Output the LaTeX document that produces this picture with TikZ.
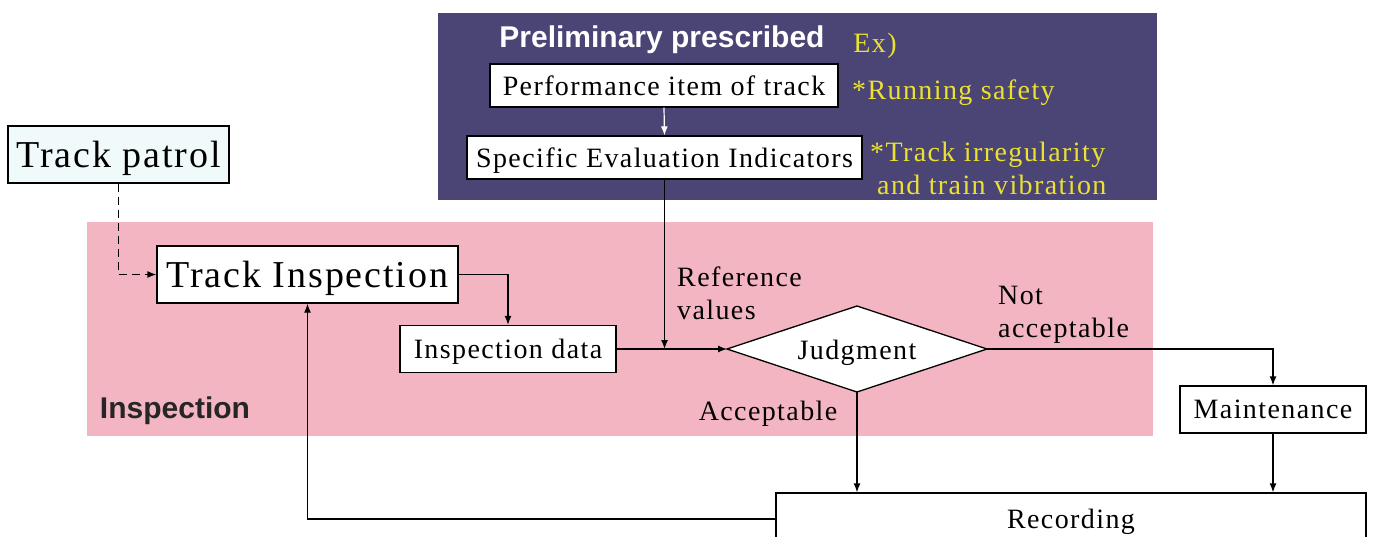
\documentclass[tikz,border=0pt]{standalone}
\usepackage{fontspec}
\setmainfont{Liberation Serif}[LetterSpace=5]
\setsansfont{Liberation Sans}
\usetikzlibrary{arrows.meta}

\definecolor{panelblue}{RGB}{75,69,117}
\definecolor{inspink}{RGB}{244,181,194}
\definecolor{patrolfill}{RGB}{240,250,250}
\definecolor{noteyellow}{RGB}{235,225,50}

\begin{document}
\begin{tikzpicture}[x=1pt,y=-1pt,
  box/.style={draw=black, fill=white, line width=1.3pt, inner sep=0pt,
    text depth=0pt, font=\fontsize{28}{33}\selectfont},
  conn/.style={line width=1.3pt, -{Latex[length=9pt,width=7pt]}},
  lbl/.style={font=\fontsize{28}{33}\selectfont, inner sep=0pt, align=left},
  note/.style={lbl, text=noteyellow},
  title/.style={font=\sffamily\bfseries\fontsize{30}{34}\selectfont, inner sep=0pt}]
\useasboundingbox (0,0) rectangle (1373,536);
\clip (0,0) rectangle (1373,536);

% background areas
\fill[inspink] (87,222) rectangle (1153,436);
\fill[panelblue] (438,13) rectangle (1157,200);

% upper panel: prescribed items
\node[title, text=white] (prelim) at (662,40) {Preliminary prescribed};
\node[note] (ex) at (875,46) {Ex)};
\node[box, minimum width=348pt, minimum height=43pt] (perf) at (664,85.5) {Performance item of track};
\node[box, minimum width=395pt, minimum height=43pt] (spec) at (664.5,157.5) {Specific Evaluation Indicators};
\node[note, anchor=west] (safety) at (852,93) {*Running safety};
\node[note, anchor=north west] (irreg) at (870,142) {*Track irregularity\\\hspace*{7pt}and train vibration};
\draw[line width=1.2pt, white, -{Latex[length=9pt,width=7pt]}] (perf.south) -- (spec.north);

% patrol and inspection flow
\node[box, fill=patrolfill, minimum width=221pt, minimum height=57pt,
  font=\fontsize{38}{40}\selectfont] (patrol) at (118.5,154.5) {Track patrol};
\node[box, minimum width=301pt, minimum height=57pt,
  font=\fontsize{38}{40}\selectfont] (insp) at (307.5,274.5) {Track Inspection};
\node[box, minimum width=216pt, minimum height=47pt] (data) at (508,349) {Inspection data};
\node[title, text=black!85] (inslabel) at (175,411) {Inspection};

% judgment diamond
\coordinate (jl) at (727,349);
\coordinate (jt) at (857,306);
\coordinate (jr) at (987,349);
\coordinate (jb) at (857,392);
\draw[fill=white, line width=1.3pt] (jl) -- (jt) -- (jr) -- (jb) -- cycle;
\node[lbl] (judge) at (857,353) {Judgment};

\node[box, minimum width=186pt, minimum height=47pt] (maint) at (1273,409.5) {Maintenance};
\node[box, minimum width=590pt, minimum height=52pt] (rec) at (1071,519) {Recording};

% labels
\node[lbl, anchor=north west] (refval) at (677,267) {Reference\\values};
\node[lbl, anchor=north west] (notacc) at (998,286) {Not\\acceptable};
\node[lbl] (acc) at (768,414) {Acceptable};

% connectors
\draw[conn, dash pattern=on 8pt off 5pt] (patrol.south) |- (insp.west);
\draw[conn] (insp.east) -| (data.north);
\draw[conn] (data.east) -- (jl);
\draw[conn] (spec.south) -- (spec.south |- data.east);
\draw[conn] (jr) -| (maint.north);
\draw[conn] (maint.south) -- (maint.south |- rec.north);
\draw[conn] (jb) -- (jb |- rec.north);
\draw[conn] (rec.west) -| (insp.south);
\end{tikzpicture}
\end{document}
